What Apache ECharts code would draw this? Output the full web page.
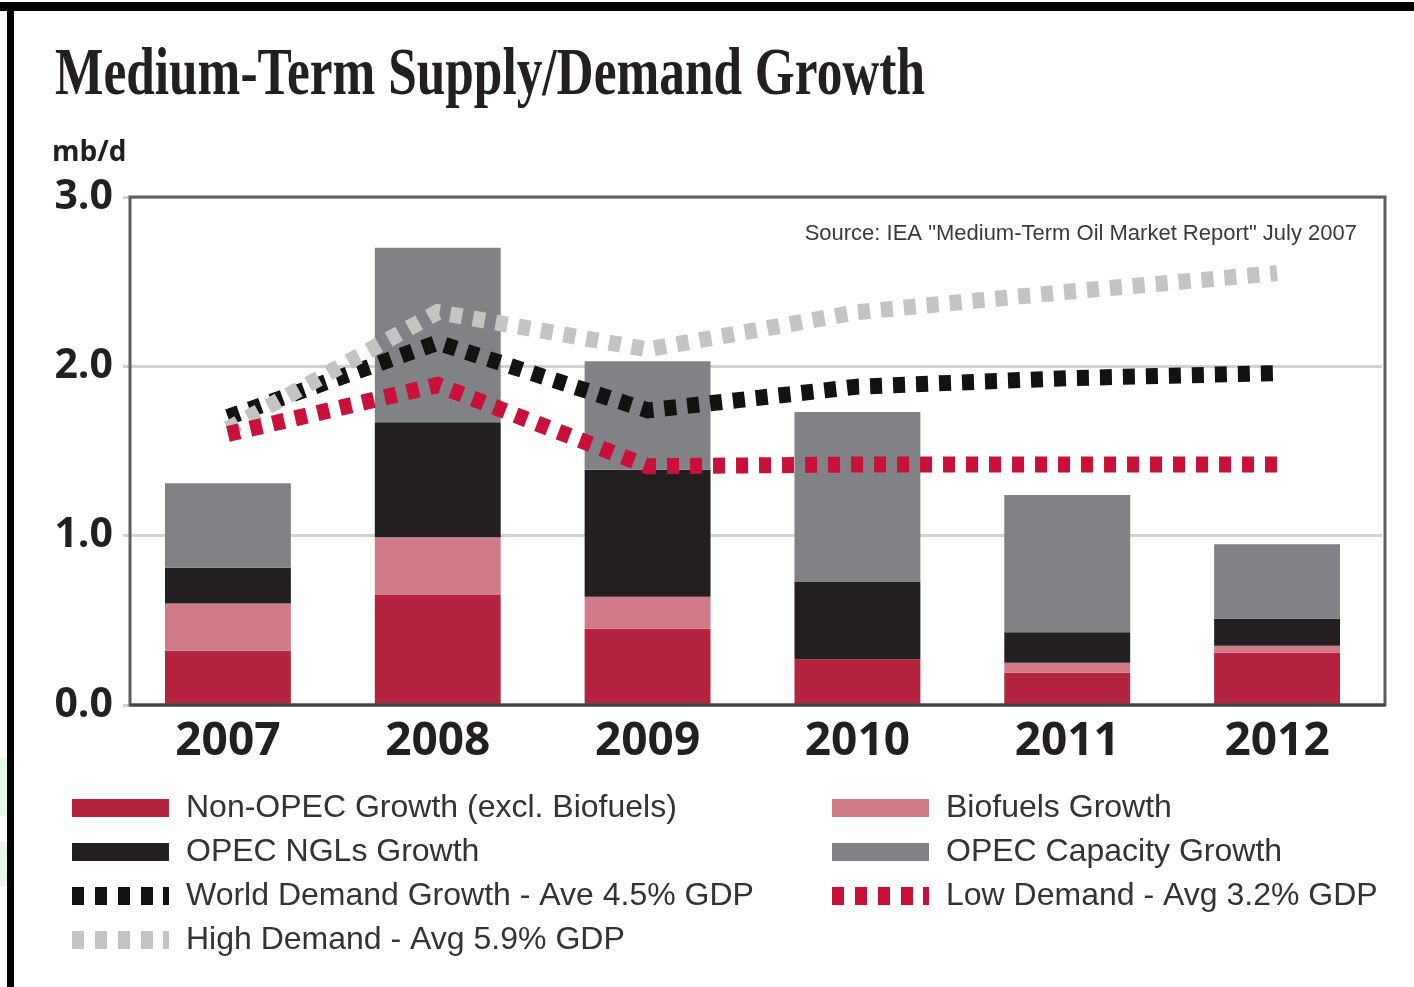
<!DOCTYPE html>
<html>
<head>
<meta charset="utf-8">
<title>Medium-Term Supply/Demand Growth</title>
<script src="https://cdn.jsdelivr.net/npm/echarts@6/dist/echarts.min.js"></script>
<style>
  html, body { margin: 0; padding: 0; background: #fff; }
  #chart { width: 1414px; height: 987px; }
</style>
</head>
<body>
<div id="chart"></div>
<script>
// categories
const years = ['2007', '2008', '2009', '2010', '2011', '2012'];
// stacked supply bars (mb/d)
const nonOpec = [0.32, 0.65, 0.45, 0.27, 0.19, 0.31];
const biofuels = [0.28, 0.34, 0.19, 0.0, 0.06, 0.04];
const opecNgl = [0.21, 0.68, 0.75, 0.46, 0.18, 0.16];
const opecCapacity = [0.50, 1.03, 0.64, 1.00, 0.81, 0.44];
// demand lines (mb/d)
const worldDemand = [1.70, 2.14, 1.74, 1.88, 1.93, 1.96];
const highDemand = [1.63, 2.32, 2.10, 2.32, 2.44, 2.55];
const lowDemand = [1.60, 1.89, 1.41, 1.42, 1.42, 1.42];
// y axis ticks
const yTicks = [0, 1, 2, 3];

const dashIcon = 'path://M0,0h12v18h-12z M23,0h12v18h-12z M46,0h12v18h-12z M69,0h12v18h-12z M91,0h6v18h-6z';
const barIcon = 'path://M0,0h97v18h-97z';

const names = {
  nonOpec: 'Non-OPEC Growth (excl. Biofuels)',
  ngl: 'OPEC NGLs Growth',
  world: 'World Demand Growth - Ave 4.5% GDP',
  high: 'High Demand - Avg 5.9% GDP',
  bio: 'Biofuels Growth',
  cap: 'OPEC Capacity Growth',
  low: 'Low Demand - Avg 3.2% GDP'
};

const chart = echarts.init(document.getElementById('chart'));

const legendText = {
  fontFamily: 'Liberation Sans',
  fontSize: 32,
  color: '#333',
  lineHeight: 34,
  padding: [0, 0, 0, 12]
};

function bar(name, data, color) {
  return {
    name: name, type: 'bar', stack: 'supply', data: data,
    barWidth: '60%',
    itemStyle: { color: color },
    emphasis: { disabled: true }
  };
}

function line(name, data, color) {
  return {
    name: name, type: 'line', data: data,
    symbol: 'none', smooth: false, z: 5,
    itemStyle: { color: color },
    lineStyle: { color: color, width: 16, type: [12, 11], cap: 'butt', join: 'miter' },
    emphasis: { disabled: true }
  };
}

const option = {
  animation: false,
  backgroundColor: '#fff',
  // category band runs a little left of the drawn frame, as in the source
  grid: { left: 123, right: 32, top: 197, bottom: 282 },
  legend: [
    {
      left: 67, top: 786, orient: 'vertical',
      itemWidth: 97, itemHeight: 18, itemGap: 10,
      selectedMode: false,
      textStyle: legendText,
      data: [
        { name: names.nonOpec, icon: barIcon },
        { name: names.ngl, icon: barIcon },
        { name: names.world, icon: dashIcon },
        { name: names.high, icon: dashIcon }
      ]
    },
    {
      left: 827, top: 786, orient: 'vertical',
      itemWidth: 97, itemHeight: 18, itemGap: 10,
      selectedMode: false,
      textStyle: legendText,
      data: [
        { name: names.bio, icon: barIcon },
        { name: names.cap, icon: barIcon },
        { name: names.low, icon: dashIcon }
      ]
    }
  ],
  xAxis: {
    type: 'category',
    data: years,
    axisLine: { show: false },
    axisTick: { show: false },
    axisLabel: {
      margin: 14,
      fontFamily: 'Open Sans', fontWeight: 'bold', fontSize: 46, color: '#231f20'
    }
  },
  yAxis: {
    type: 'value',
    min: yTicks[0], max: yTicks[yTicks.length - 1], interval: 1,
    axisLine: { show: false },
    axisTick: { show: false },
    splitLine: { lineStyle: { color: '#d2d2d2', width: 3 } },
    axisLabel: {
      margin: 10,
      fontFamily: 'Open Sans', fontWeight: 'bold', fontSize: 41, color: '#231f20',
      formatter: (v) => v.toFixed(1)
    }
  },
  graphic: [
    // black frame, top and left
    { type: 'rect', shape: { x: 0, y: 2, width: 1414, height: 9 }, style: { fill: '#000' }, z: 100 },
    { type: 'rect', shape: { x: 7, y: 2, width: 7, height: 985 }, style: { fill: '#000' }, z: 100 },
    { type: 'rect', shape: { x: 0, y: 758, width: 7, height: 58 }, style: { fill: '#e4f6e4' }, z: 100 },
    { type: 'rect', shape: { x: 0, y: 842, width: 7, height: 44 }, style: { fill: '#e4f6e4' }, z: 100 },
    // plot frame
    {
      type: 'rect', z: 3,
      shape: { x: 130, y: 197, width: 1255, height: 508 },
      style: { fill: 'none', stroke: '#5e5e5e', lineWidth: 3 }
    },
    {
      type: 'line', z: 3,
      shape: { x1: 130, y1: 705, x2: 1385, y2: 705 },
      style: { stroke: '#444', lineWidth: 3 }
    },
    {
      type: 'text', left: 55, top: 42, scaleX: 0.755,
      style: {
        text: 'Medium-Term Supply/Demand Growth',
        font: 'bold 68px "Liberation Serif"', fill: '#231f20'
      }
    },
    {
      type: 'text', left: 52, top: 139,
      style: { text: 'mb/d', font: 'bold 28px "Open Sans"', fill: '#231f20' }
    },
    {
      type: 'text', right: 57, top: 223,
      style: {
        text: 'Source: IEA "Medium-Term Oil Market Report" July 2007',
        font: '22px "Liberation Sans"', fill: '#3a3a3a'
      }
    }
  ],
  series: [
    bar(names.nonOpec, nonOpec, '#b5243f'),
    bar(names.bio, biofuels, '#d27b88'),
    bar(names.ngl, opecNgl, '#231f20'),
    bar(names.cap, opecCapacity, '#808285'),
    line(names.world, worldDemand, '#121212'),
    line(names.high, highDemand, '#c4c4c4'),
    line(names.low, lowDemand, '#c8103a')
  ]
};

chart.setOption(option);
</script>
</body>
</html>
